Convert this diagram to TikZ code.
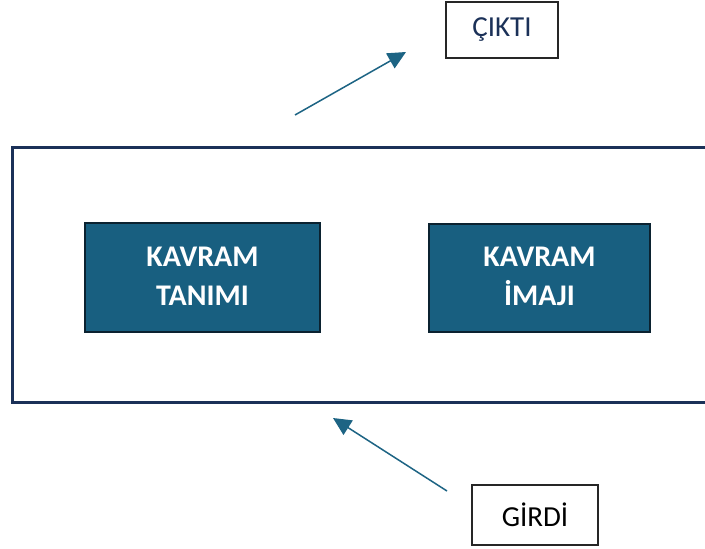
\documentclass[tikz,border=0pt]{standalone}
\usepackage{fontspec}
\setmainfont{Carlito}
\usetikzlibrary{arrows.meta}
\definecolor{boxfill}{HTML}{185F80}
\definecolor{boxline}{HTML}{0B2230}
\definecolor{frameline}{HTML}{1B3158}
\definecolor{arrowc}{HTML}{1D6484}
\tikzset{
  conceptbox/.style={draw=boxline, line width=2.4pt, fill=boxfill, text=white,
    font=\fontsize{30}{40}\selectfont\bfseries, align=center, inner sep=0pt},
  labelbox/.style={draw=black!85, line width=1.5pt, fill=white, inner sep=0pt,
    font=\fontsize{29}{32}\selectfont},
  flowarrow/.style={draw=arrowc, line width=1.5pt, -{Triangle[length=18pt,width=17pt]}}
}
\begin{document}
\begin{tikzpicture}[x=1pt,y=-1pt]
\clip (0,0) rectangle (705,549);
\fill[white] (0,0) rectangle (705,549);
% outer frame
\draw[frameline, line width=3pt] (12,147) rectangle (730,402);
% concept boxes
\node[conceptbox, minimum width=235pt, minimum height=109pt] (tanim) at (202.5,277.5) {\raisebox{3pt}{\begin{tabular}{@{}c@{}}KAVRAM\\[-1pt]TANIMI\end{tabular}}};
\node[conceptbox, minimum width=221pt, minimum height=108pt] (imaj) at (539.5,278) {\raisebox{3pt}{\begin{tabular}{@{}c@{}}KAVRAM\\[-1pt]İMAJI\end{tabular}}};
% output / input boxes
\node[labelbox, text=frameline, minimum width=112pt, minimum height=56pt] (cikti) at (502,30) {ÇIKTI\hspace{14pt}};
\node[labelbox, text=black, minimum width=126pt, minimum height=60pt] (girdi) at (535,515) {GİRDİ\hspace{20pt}};
% arrows
\coordinate (upstart) at (295,115);
\coordinate (upend) at (406,52);
\coordinate (downstart) at (447,491);
\coordinate (downend) at (333,418);
\draw[flowarrow] (upstart) -- (upend);
\draw[flowarrow] (downstart) -- (downend);
\end{tikzpicture}
\end{document}
